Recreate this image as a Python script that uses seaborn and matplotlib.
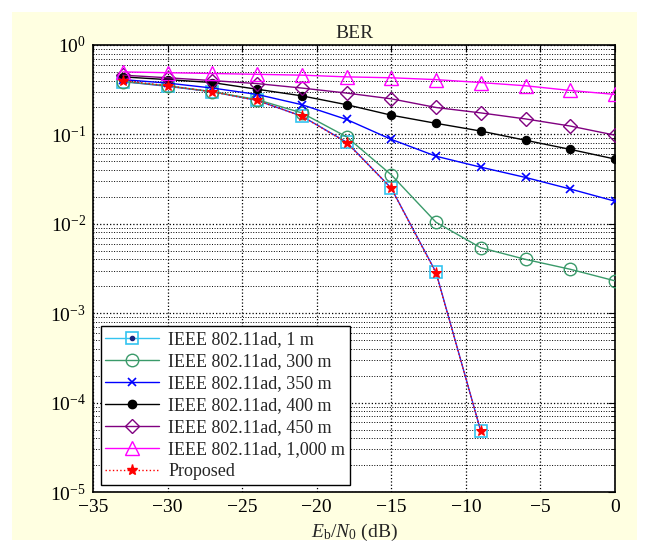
import numpy as np
import pandas as pd
import matplotlib
matplotlib.use("Agg")
import matplotlib.pyplot as plt
import matplotlib.patches as mpatches
from matplotlib.lines import Line2D
from matplotlib.ticker import LogLocator, NullFormatter
import seaborn as sns

ebn0 = [-33, -30, -27, -24, -21, -18, -15, -12, -9, -6, -3, 0]

ber_1m = [0.39, 0.345, 0.30, 0.24, 0.16, 0.082, 0.025, 0.00286, 0.000048]
ber_300m = [0.39, 0.35, 0.30, 0.245, 0.174, 0.094, 0.0353, 0.0104, 0.0054, 0.0040, 0.0031, 0.0023]
ber_350m = [0.41, 0.375, 0.33, 0.28, 0.215, 0.147, 0.088, 0.057, 0.043, 0.033, 0.0245, 0.0179]
ber_400m = [0.44, 0.41, 0.38, 0.32, 0.27, 0.215, 0.164, 0.133, 0.109, 0.086, 0.068, 0.053]
ber_450m = [0.46, 0.43, 0.40, 0.37, 0.33, 0.29, 0.25, 0.20, 0.174, 0.149, 0.124, 0.098]
ber_1000m = [0.50, 0.49, 0.48, 0.47, 0.46, 0.44, 0.43, 0.41, 0.38, 0.35, 0.31, 0.28]
ber_proposed = [0.40, 0.35, 0.30, 0.24, 0.16, 0.081, 0.025, 0.0028, 0.000048]

labels = ["IEEE 802.11ad, 1 m", "IEEE 802.11ad, 300 m", "IEEE 802.11ad, 350 m",
          "IEEE 802.11ad, 400 m", "IEEE 802.11ad, 450 m", "IEEE 802.11ad, 1,000 m",
          "Proposed"]

sns.set_theme(style="white")
plt.rcParams['font.family'] = ['Liberation Serif', 'DejaVu Serif']
plt.rcParams['mathtext.fontset'] = 'custom'
plt.rcParams['mathtext.rm'] = 'Liberation Serif'
plt.rcParams['mathtext.it'] = 'Liberation Serif:italic'
plt.rcParams['mathtext.default'] = 'rm'

fig = plt.figure(figsize=(6.49, 5.52), dpi=100)
fig.patch.set_facecolor('white')
fig.patches.append(mpatches.Rectangle((12/649, 12/552), 1 - 24/649, 1 - 24/552,
                                      transform=fig.transFigure, facecolor='#ffffe1',
                                      edgecolor='none', zorder=-10))
ax = fig.add_axes([93/649, 1 - 492/552, (615 - 93)/649, (492 - 45)/552])
ax.set_facecolor('white')

c_cyan = '#33c4f0'
c_green = '#3a9a6a'
c_blue = '#0000ff'
c_black = '#000000'
c_purple = '#800080'
c_mag = '#ff00ff'
c_red = '#ff0000'

n1 = len(ber_1m)
sns.lineplot(x=ebn0[:n1], y=ber_1m, ax=ax, color='#3030e8', lw=1.0, marker='s', ms=8,
             mfc='none', mec=c_cyan, mew=1.2, zorder=3)
sns.lineplot(x=ebn0, y=ber_300m, ax=ax, color=c_green, lw=1.0, marker='o', ms=9,
             mfc='none', mec=c_green, mew=1.0, zorder=3)
sns.lineplot(x=ebn0, y=ber_350m, ax=ax, color=c_blue, lw=1.0, marker='x', ms=6,
             mec=c_blue, mew=1.2, zorder=3)
sns.lineplot(x=ebn0, y=ber_400m, ax=ax, color=c_black, lw=1.0, marker='o', ms=6,
             mfc=c_black, mec=c_black, zorder=3)
sns.lineplot(x=ebn0, y=ber_450m, ax=ax, color=c_purple, lw=1.0, marker='D', ms=7,
             mfc='none', mec=c_purple, mew=1.0, zorder=3)
sns.lineplot(x=ebn0, y=ber_1000m, ax=ax, color=c_mag, lw=1.0, marker='^', ms=10,
             mfc='none', mec=c_mag, mew=1.0, zorder=3)
sns.lineplot(x=ebn0[:len(ber_proposed)], y=ber_proposed, ax=ax, color=c_red, lw=1.0,
             linestyle=':', marker='*', ms=8, mfc=c_red, mec=c_red, zorder=4)

ax.set_yscale('log')
ax.set_xlim(-35, 0)
ax.set_ylim(1e-5, 1)
ax.set_xticks(range(-35, 1, 5))
ax.set_xticklabels(['\u221235', '\u221230', '\u221225', '\u221220', '\u221215',
                    '\u221210', '\u22125', '0'])
ax.yaxis.set_major_locator(LogLocator(base=10, numticks=10))
ax.yaxis.set_minor_locator(LogLocator(base=10, subs=np.arange(2, 10), numticks=50))
ax.yaxis.set_minor_formatter(NullFormatter())

ax.grid(True, which='major', axis='both', color='black', linestyle=':', linewidth=0.9)
ax.grid(True, which='minor', axis='y', color='black', linestyle=':', linewidth=0.7)
ax.tick_params(which='both', direction='in', top=True, right=True, colors='black',
               labelsize=14, pad=5)
ax.tick_params(which='major', length=5, width=0.8)
ax.tick_params(which='minor', length=3, width=0.6)
for s in ax.spines.values():
    s.set_color('black')
    s.set_linewidth(1.2)

ax.set_title('BER', fontsize=14, pad=5)
ax.set_xlabel(r'$\mathit{E}_\mathrm{b}/\mathit{N}_0$ (dB)', fontsize=14, labelpad=4)

sq = Line2D([], [], color=c_cyan, lw=1.0, marker='s', ms=8, mfc='none', mec=c_cyan, mew=1.2)
dot = Line2D([], [], ls='none', marker='o', ms=3, mfc='#1a237e', mec='#1a237e')
handles = [
    (sq, dot),
    Line2D([], [], color=c_green, lw=1.0, marker='o', ms=9, mfc='none', mec=c_green),
    Line2D([], [], color=c_blue, lw=1.0, marker='x', ms=6, mec=c_blue, mew=1.2),
    Line2D([], [], color=c_black, lw=1.0, marker='o', ms=6, mfc=c_black),
    Line2D([], [], color=c_purple, lw=1.0, marker='D', ms=7, mfc='none', mec=c_purple),
    Line2D([], [], color=c_mag, lw=1.0, marker='^', ms=10, mfc='none', mec=c_mag),
    Line2D([], [], color=c_red, lw=1.0, ls=':', marker='*', ms=8, mfc=c_red, mec=c_red),
]
leg = ax.legend(handles, labels, loc='lower left', bbox_to_anchor=(0.008, 0.008),
                fontsize=13, frameon=True, fancybox=False, framealpha=1,
                edgecolor='black', labelspacing=0.28, handlelength=3.0,
                handletextpad=0.5, borderpad=0.25, borderaxespad=0.2)
leg.get_frame().set_linewidth(1.0)

fig.savefig('out.png', dpi=100, facecolor=fig.get_facecolor())
